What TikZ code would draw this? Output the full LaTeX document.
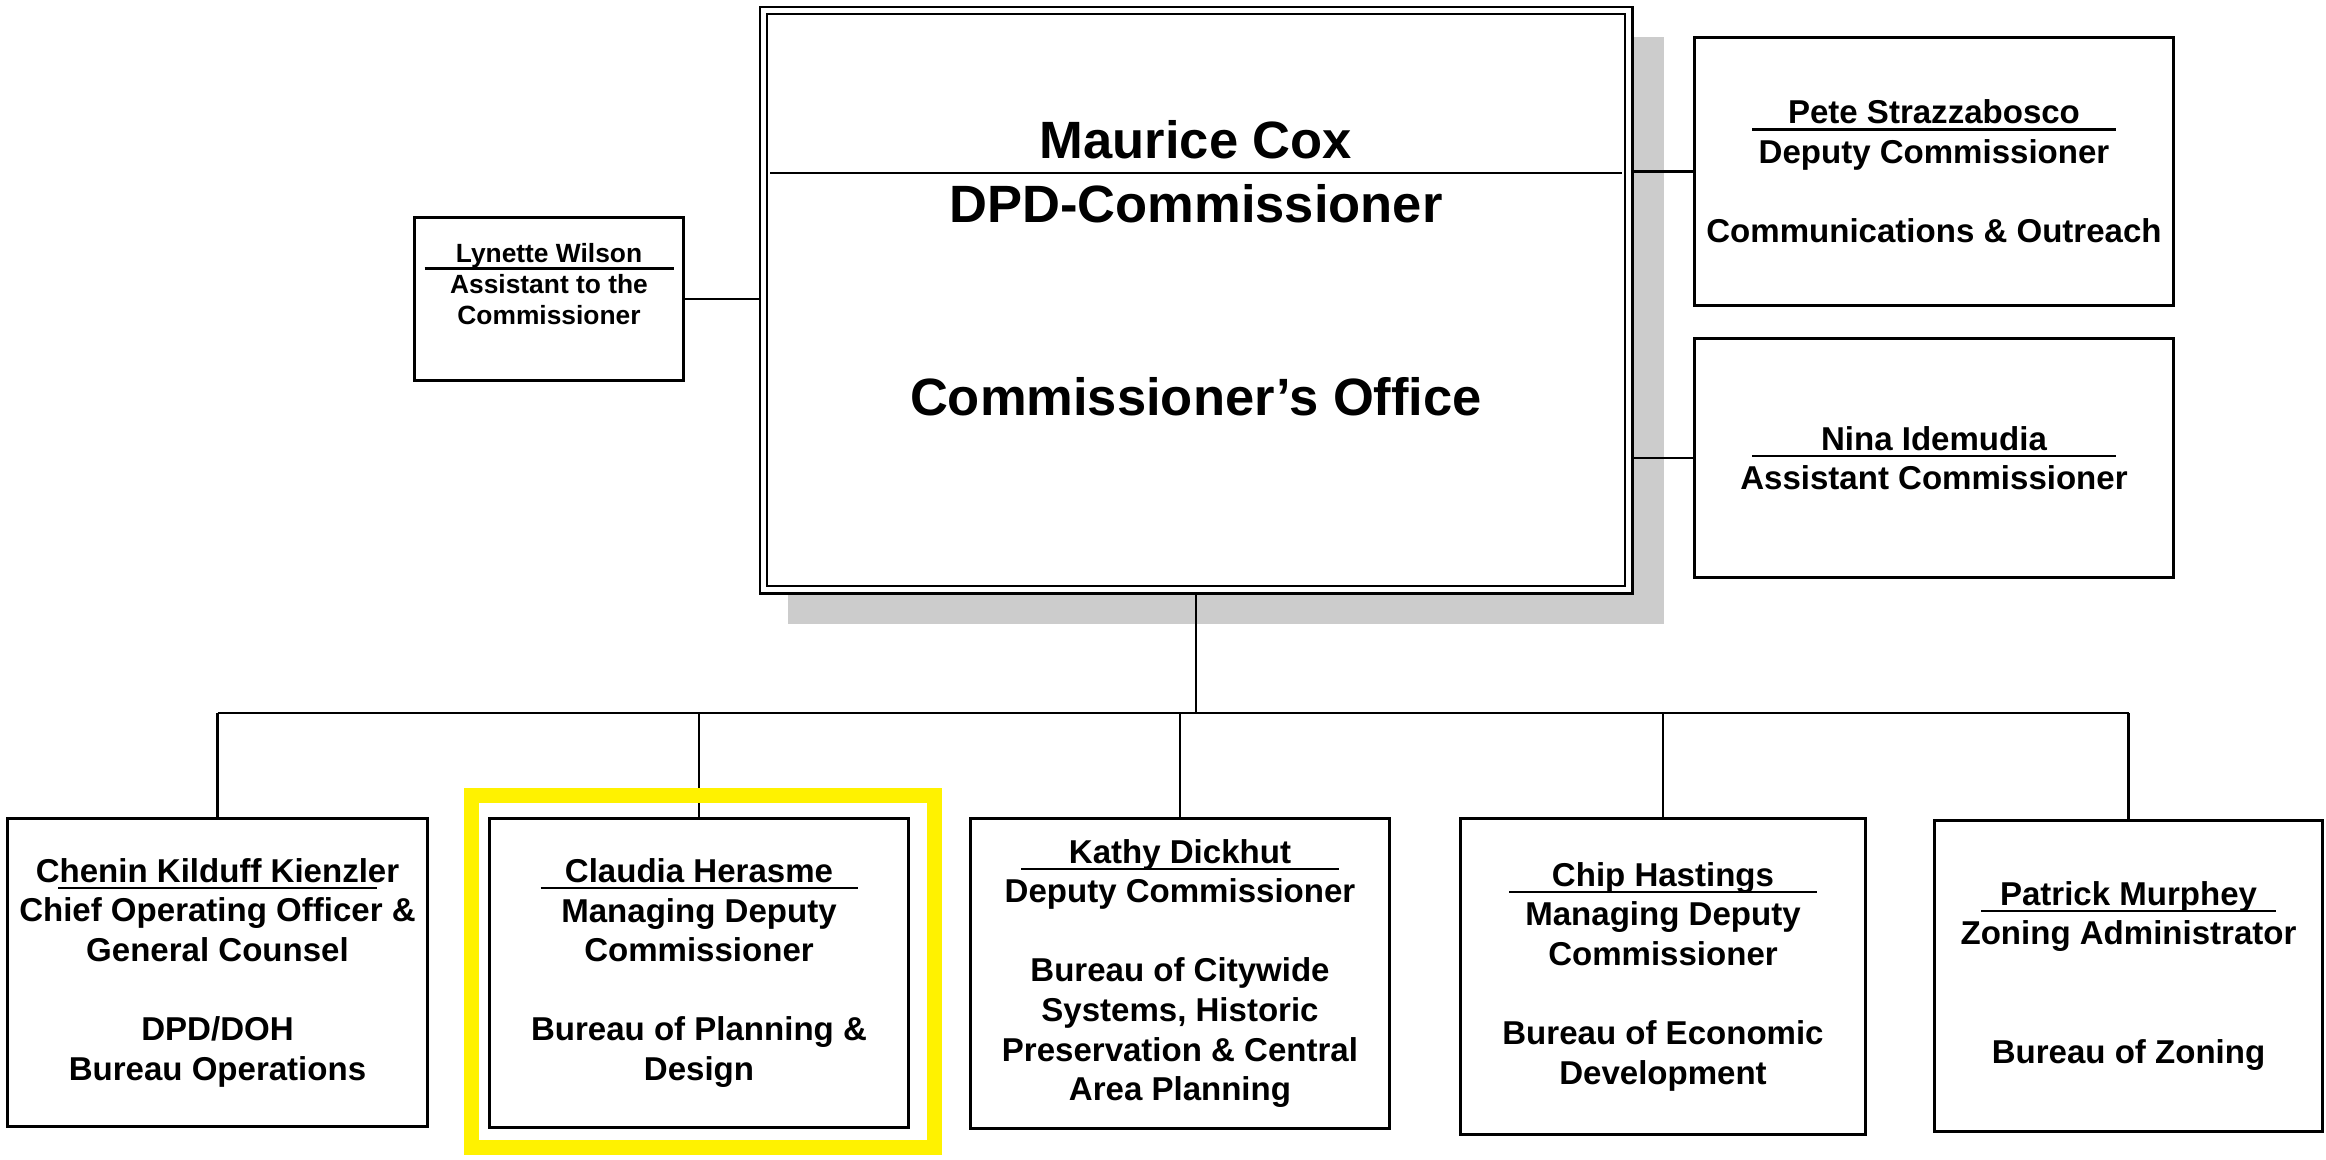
\documentclass[tikz,border=0pt]{standalone}
\usepackage{fontspec}
\setmainfont{Liberation Sans}
\usepackage{xcolor}
\usepackage{tikz}
\usetikzlibrary{calc}
\usetikzlibrary{shadows}

\newcommand{\unitfont}{\bfseries\fontsize{9.4pt}{11.27pt}\selectfont}
\newcommand{\aidefont}{\bfseries\fontsize{7.5pt}{8.82pt}\selectfont}
\newcommand{\headfont}{\bfseries\fontsize{14.94pt}{18.32pt}\selectfont}
% name with a fixed-width rule under it
\newcommand{\nameline}[3][0.07cm]{\makebox[0pt]{\smash{\rule[-#1]{#2}{0.025cm}}}\makebox[0pt]{#3}}

\begin{document}
\begin{tikzpicture}[
        unit/.style={draw, line width=0.7pt, fill=white, inner sep=0pt, align=center, font=\unitfont},
        mainbox/.style={draw, line width=0.7pt, double=white, double distance=1.3pt, outer sep=1.35pt, fill=white,
            inner sep=0pt, align=center, font=\headfont, minimum width=8.655cm, minimum height=5.795cm,
            drop shadow={shadow xshift=0.295cm, shadow yshift=-0.305cm, shadow scale=1.013, fill=black!20, opacity=1}},
        link/.style={line width=0.6pt},
        hilite/.style={draw=yellow, line width=0.15cm}
    ]
        \useasboundingbox (0,0) rectangle (23.26,-11.59);

        \node[mainbox] (main) at (11.96,-3.0) {\nameline[0.16cm]{8.52cm}{Maurice Cox}\\DPD-Commissioner\\ \mbox{}\\ \mbox{}\\Commissioner’s Office\\ \mbox{}};

        \node[unit, font=\aidefont, minimum width=2.69cm, minimum height=1.63cm] (lyn) at (5.49,-2.99) {\nameline[0.075cm]{2.49cm}{Lynette Wilson}\\Assistant to the\\Commissioner\\ \mbox{}};
        \node[unit, minimum width=4.79cm, minimum height=2.68cm] (pete) at (19.34,-1.715) {\nameline{3.64cm}{Pete Strazzabosco}\\Deputy Commissioner\\ \mbox{}\\Communications \& Outreach};
        \node[unit, minimum width=4.79cm, minimum height=2.39cm] (nina) at (19.34,-4.58) {\nameline{3.64cm}{Nina Idemudia}\\Assistant Commissioner};

        \node[unit, minimum width=4.20cm, minimum height=3.08cm] (chenin) at (2.175,-9.725) {\nameline{3.19cm}{Chenin Kilduff Kienzler}\\Chief Operating Officer \&\\General Counsel\\ \mbox{}\\DPD/DOH\\Bureau Operations};
        \node[unit, minimum width=4.19cm, minimum height=3.09cm] (claudia) at (6.99,-9.73) {\nameline{3.17cm}{Claudia Herasme}\\Managing Deputy\\Commissioner\\ \mbox{}\\Bureau of Planning \&\\Design};
        \node[unit, minimum width=4.19cm, minimum height=3.10cm] (kathy) at (11.80,-9.735) {\nameline{3.18cm}{Kathy Dickhut}\\Deputy Commissioner\\ \mbox{}\\Bureau of Citywide\\Systems, Historic\\Preservation \& Central\\Area Planning};
        \node[unit, minimum width=4.05cm, minimum height=3.16cm] (chip) at (16.63,-9.765) {\nameline{3.08cm}{Chip Hastings}\\Managing Deputy\\Commissioner\\ \mbox{}\\Bureau of Economic\\Development};
        \node[unit, minimum width=3.88cm, minimum height=3.11cm] (patrick) at (21.285,-9.76) {\nameline{2.95cm}{Patrick Murphey}\\Zoning Administrator\\ \mbox{}\\ \mbox{}\\Bureau of Zoning};

        \coordinate (bus) at (11.96,-7.13);

        % staff links
        \draw[link] (lyn.east) -- (lyn.east -| main.west);
        \draw[link] (pete.west) -- (pete.west -| main.east);
        \draw[link] (nina.west) -- (nina.west -| main.east);

        % bureaus
        \draw[link] (main.south) -- (bus);
        \draw[link] (chenin.north |- bus) -- (patrick.north |- bus);
        \foreach \b in {chenin,claudia,kathy,chip,patrick}
            \draw[link] (\b.north) -- (\b.north |- bus);

        \draw[hilite] ($(claudia.south west)+(-0.17,-0.185)$) rectangle ($(claudia.north east)+(0.245,0.22)$);
    \end{tikzpicture}
\end{document}
